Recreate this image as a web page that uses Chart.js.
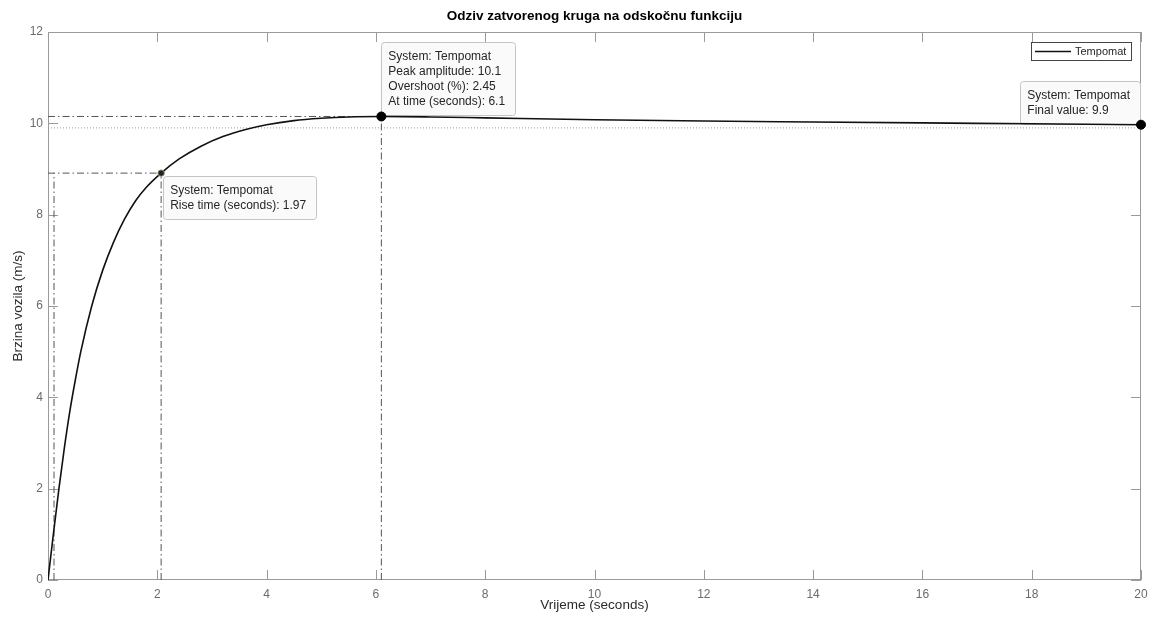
<!DOCTYPE html>
<html lang="hr">
<head>
<meta charset="UTF-8">
<title>Odziv zatvorenog kruga na odskočnu funkciju</title>
<script src="https://cdn.jsdelivr.net/npm/chart.js"></script>
<style>
    html, body { margin: 0; padding: 0; background: #fff; }
    #wrap { width: 1151px; height: 622px; }
</style>
</head>
<body>
<div id="wrap"><canvas id="odziv" width="1151" height="622"></canvas></div>
<script>
// odziv sustava - ocitano sa slike
const vrijeme = [0, 0.1, 0.2, 0.3, 0.4, 0.5, 0.6, 0.8, 1.0, 1.2, 1.4, 1.6, 1.8, 2.07, 2.4, 2.8, 3.2, 3.6, 4.0, 4.5, 5.0, 5.5, 6.1, 7, 8, 10, 12, 14, 16, 18, 20];
const brzina  = [0, 1.02, 2.0, 2.9, 3.7, 4.38, 5.0, 6.0, 6.78, 7.4, 7.9, 8.3, 8.6, 8.91, 9.22, 9.5, 9.71, 9.86, 9.97, 10.06, 10.11, 10.14, 10.15, 10.14, 10.12, 10.08, 10.05, 10.03, 10.01, 9.99, 9.97];

const xTicks = [0, 2, 4, 6, 8, 10, 12, 14, 16, 18, 20];
const yTicks = [0, 2, 4, 6, 8, 10, 12];

// karakteristicne tocke (rise time, peak, final value)
const riseVrijeme = [0.11, 2.07];
const riseRazina = 8.91;
const peakVrijeme = 6.1;
const peakRazina = 10.15;
const konacnaVrijednost = 9.9;
const krajVrijeme = 20;
const krajRazina = 9.97;

const tipRise  = ['System: Tempomat', 'Rise time (seconds): 1.97'];
const tipPeak  = ['System: Tempomat', 'Peak amplitude: 10.1', 'Overshoot (%): 2.45', 'At time (seconds): 6.1'];
const tipFinal = ['System: Tempomat', 'Final value: 9.9'];

const FONT = '"Liberation Sans", Arial, Helvetica, sans-serif';

function linija(pts, dash, boja) {
    return {
        data: pts,
        showLine: true,
        borderColor: boja,
        borderWidth: 1,
        borderDash: dash,
        pointRadius: 0,
        fill: false,
        tension: 0
    };
}

function tocka(t, v, r, fillC, borderC) {
    return {
        data: [{ x: t, y: v }],
        showLine: false,
        clip: false,
        pointRadius: r,
        pointBackgroundColor: fillC,
        pointBorderColor: borderC,
        pointBorderWidth: 1
    };
}

const odziv = vrijeme.map((t, i) => ({ x: t, y: brzina[i] }));
const crtaTockaCrta = [7, 3, 1.5, 3];

const datasets = [
    tocka(peakVrijeme, peakRazina, 4.5, '#000', '#000'),
    tocka(krajVrijeme, krajRazina, 4.5, '#000', '#000'),
    tocka(riseVrijeme[1], riseRazina, 3.2, '#222', '#8a8a70'),
    {
        label: 'Tempomat',
        data: odziv,
        showLine: true,
        borderColor: '#111',
        borderWidth: 1.6,
        pointRadius: 0,
        cubicInterpolationMode: 'monotone',
        fill: false
    },
    linija([{ x: 0, y: riseRazina }, { x: riseVrijeme[1], y: riseRazina }], crtaTockaCrta, '#555'),
    linija([{ x: riseVrijeme[0], y: 0 }, { x: riseVrijeme[0], y: riseRazina }], crtaTockaCrta, '#555'),
    linija([{ x: riseVrijeme[1], y: 0 }, { x: riseVrijeme[1], y: riseRazina }], crtaTockaCrta, '#555'),
    linija([{ x: 0, y: peakRazina }, { x: peakVrijeme, y: peakRazina }], crtaTockaCrta, '#555'),
    linija([{ x: peakVrijeme, y: 0 }, { x: peakVrijeme, y: peakRazina }], crtaTockaCrta, '#555'),
    linija([{ x: 0, y: konacnaVrijednost }, { x: krajVrijeme, y: konacnaVrijednost }], [1, 2], '#9a9a9a')
];

// okvir osi s unutarnjim crticama (kao u MATLAB-u) + datatip okviri
const okvirPlugin = {
    id: 'okvir',
    beforeDatasetsDraw(chart) {
        const { ctx, chartArea: a, scales: { x, y } } = chart;
        const tl = 10;
        ctx.save();
        ctx.strokeStyle = '#9a9a9a';
        ctx.lineWidth = 1;
        ctx.strokeRect(a.left + 0.5, a.top + 0.5, a.right - a.left - 1, a.bottom - a.top - 1);
        ctx.beginPath();
        xTicks.forEach(v => {
            const px = Math.round(x.getPixelForValue(v)) + 0.5;
            ctx.moveTo(px, a.bottom); ctx.lineTo(px, a.bottom - tl);
            ctx.moveTo(px, a.top); ctx.lineTo(px, a.top + tl);
        });
        yTicks.forEach(v => {
            const py = Math.round(y.getPixelForValue(v)) + 0.5;
            ctx.moveTo(a.left, py); ctx.lineTo(a.left + tl, py);
            ctx.moveTo(a.right, py); ctx.lineTo(a.right - tl, py);
        });
        ctx.stroke();

        ctx.font = '12px ' + FONT;
        const lh = 15;

        function okvir(lines, px, py, smjer) {
            const w = Math.max(...lines.map(l => ctx.measureText(l).width)) + 17;
            const h = lines.length * lh + 13;
            let bx = px, by = py;
            if (smjer === 'gore-desno') { bx = px; by = py - h - 1; }
            if (smjer === 'dolje-desno') { bx = px + 2; by = py + 3; }
            if (smjer === 'gore-lijevo') { bx = px - w - 1; by = py - h - 1; }
            ctx.beginPath();
            ctx.roundRect(Math.round(bx) + 0.5, Math.round(by) + 0.5, Math.round(w), Math.round(h), 3);
            ctx.fillStyle = 'rgba(250,250,250,0.96)';
            ctx.fill();
            ctx.strokeStyle = '#c4c4c4';
            ctx.lineWidth = 1;
            ctx.stroke();
            ctx.fillStyle = '#262626';
            ctx.textBaseline = 'middle';
            ctx.textAlign = 'left';
            lines.forEach((l, i) => ctx.fillText(l, bx + 7, by + 7 + lh / 2 + i * lh));
        }

        okvir(tipPeak, x.getPixelForValue(peakVrijeme), y.getPixelForValue(peakRazina), 'gore-desno');
        okvir(tipRise, x.getPixelForValue(riseVrijeme[1]), y.getPixelForValue(riseRazina), 'dolje-desno');
        okvir(tipFinal, x.getPixelForValue(krajVrijeme), y.getPixelForValue(krajRazina), 'gore-lijevo');
        ctx.restore();
    },
    afterDatasetsDraw(chart) {
        const { ctx, chartArea: a } = chart;
        ctx.save();
        // legenda
        ctx.font = '11px ' + FONT;
        const lw = 100, lhh = 18;
        const lx = a.right - 10 - lw, ly = a.top + 10;
        ctx.fillStyle = '#fff';
        ctx.fillRect(lx, ly, lw, lhh);
        ctx.strokeStyle = '#444';
        ctx.lineWidth = 1;
        ctx.strokeRect(lx + 0.5, ly + 0.5, lw, lhh);
        ctx.beginPath();
        ctx.strokeStyle = '#111';
        ctx.lineWidth = 1.4;
        ctx.moveTo(lx + 4, ly + 9.5);
        ctx.lineTo(lx + 40, ly + 9.5);
        ctx.stroke();
        ctx.fillStyle = '#262626';
        ctx.textBaseline = 'middle';
        ctx.fillText('Tempomat', lx + 44, ly + 10);
        ctx.restore();
    },
    afterDraw(chart) {
        const { ctx, chartArea: a } = chart;
        ctx.save();
        ctx.font = 'bold 13.5px ' + FONT;
        ctx.fillStyle = '#000';
        ctx.textAlign = 'center';
        ctx.textBaseline = 'middle';
        ctx.fillText('Odziv zatvorenog kruga na odskočnu funkciju', (a.left + a.right) / 2, 16);
        ctx.restore();
    }
};

new Chart(document.getElementById('odziv'), {
    type: 'scatter',
    data: { datasets: datasets },
    options: {
        responsive: false,
        animation: false,
        devicePixelRatio: 1,
        layout: { padding: { top: 32, right: 10, left: 0, bottom: 0 } },
        plugins: {
            legend: { display: false },
            tooltip: { enabled: false },
            title: { display: false }
        },
        scales: {
            x: {
                type: 'linear',
                min: 0,
                max: 20,
                afterFit: s => { s.height = 42; s.paddingLeft = 0; s.paddingRight = 0; },
                afterBuildTicks: s => { s.ticks = xTicks.map(v => ({ value: v })); },
                grid: { display: false, drawTicks: false },
                border: { display: false },
                ticks: { color: '#6b6b6b', padding: 7, font: { family: FONT, size: 12 } },
                title: { display: true, text: 'Vrijeme (seconds)', color: '#2a2a2a', padding: { top: 0, bottom: 9 }, font: { family: FONT, size: 13.5 } }
            },
            y: {
                min: 0,
                max: 12,
                afterFit: s => { s.width = 48; s.paddingTop = 0; s.paddingBottom = 0; },
                afterBuildTicks: s => { s.ticks = yTicks.map(v => ({ value: v })); },
                grid: { display: false, drawTicks: false },
                border: { display: false },
                ticks: { color: '#6b6b6b', padding: 5, font: { family: FONT, size: 12 } },
                title: { display: true, text: 'Brzina vozila (m/s)', color: '#2a2a2a', padding: { top: 10, bottom: 0 }, font: { family: FONT, size: 13.5 } }
            }
        }
    },
    plugins: [okvirPlugin]
});
</script>
</body>
</html>
